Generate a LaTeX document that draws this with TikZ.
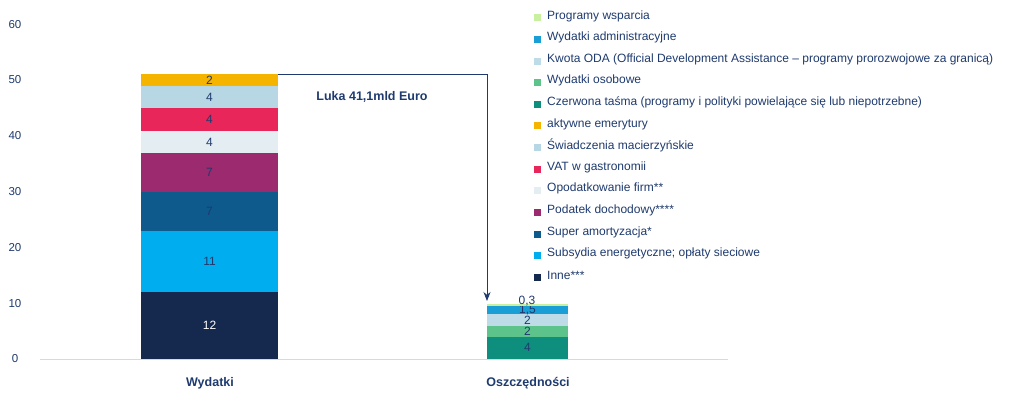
\documentclass[tikz,border=0pt]{standalone}
\usepackage{fontspec}
\setmainfont{Liberation Sans}
\usetikzlibrary{arrows.meta, positioning}
\definecolor{cInne}{HTML}{15294F}
\definecolor{cSub}{HTML}{00AEEF}
\definecolor{cSuper}{HTML}{0E5A8C}
\definecolor{cPod}{HTML}{9B2A6E}
\definecolor{cOpod}{HTML}{E4EDF2}
\definecolor{cVat}{HTML}{E8265A}
\definecolor{cSwi}{HTML}{B7D7E4}
\definecolor{cAkt}{HTML}{F5B400}
\definecolor{cCzer}{HTML}{0E8F7E}
\definecolor{cOsob}{HTML}{5CC48A}
\definecolor{cOda}{HTML}{BEDCE8}
\definecolor{cAdm}{HTML}{1A9ED6}
\definecolor{cProg}{HTML}{C8F0A0}
\definecolor{txt}{HTML}{1E3A6E}
\begin{document}
\begin{tikzpicture}[x=1pt,y=1pt,text=txt,font=\fontsize{12}{14}\selectfont]
    \tikzstyle{val} = [font=\fontsize{12}{13}\selectfont, inner sep=0pt, text=txt]
    \tikzstyle{tick} = [anchor=center, font=\fontsize{11.5}{13}\selectfont]
    \tikzstyle{key} = [minimum size=7pt, inner sep=0pt]
    \tikzstyle{entry} = [anchor=west, inner sep=0pt]
    \tikzstyle{heading} = [font=\fontsize{12.5}{14}\selectfont\bfseries]
    \tikzstyle{arrow} = [-{Stealth[length=9pt,width=7pt]}, thick, txt]
    \useasboundingbox (0,0) rectangle (1019,402);
    % axis
    \draw[gray!30] (40,43) -- (728,43);
    \foreach \v in {0,10,...,60}
        \node[tick] at (15,{43+\v*5.58}) {\v};
    % left bar
    \fill[cInne] (141,43) rectangle (278,110) node[val, text=white, midway] {12};
    \fill[cSub] (141,110) rectangle (278,171) node[val, midway] {11};
    \fill[cSuper] (141,171) rectangle (278,210) node[val, midway] {7};
    \fill[cPod] (141,210) rectangle (278,249) node[val, midway] {7};
    \fill[cOpod] (141,249) rectangle (278,271) node[val, midway] {4};
    \fill[cVat] (141,271) rectangle (278,294) node[val, midway] {4};
    \fill[cSwi] (141,294) rectangle (278,316) node[val, midway] {4};
    \fill[cAkt] (141,316) rectangle (278,327.6) node[val, midway] {2};
    \coordinate (ltop) at (278,327.6);
    % right bar
    \fill[cCzer] (487,43) rectangle (568,65.3) node[val, midway] {4};
    \fill[cOsob] (487,65.3) rectangle (568,76.5) node[val, midway] {2};
    \fill[cOda] (487,76.5) rectangle (568,87.6) node[val, midway] {2};
    \fill[cAdm] (487,87.6) rectangle (568,96) node[val, midway] {1,5};
    \fill[cProg] (487,96) rectangle (568,97.7);
    \node[val] at (527,101) {0,3};
    \coordinate (rtop) at (487,101);
    % gap
    \draw[arrow] (ltop) -| (rtop);
    \node (gap) [heading] at (372,305) {Luka 41,1mld Euro};
    % categories
    \node (wyd) [heading] at (210,19) {Wydatki};
    \node (osz) [heading] at (528,19) {Oszczędności};
    % legend
    \foreach \c/\t [count=\i from 0] in {cProg/Programy wsparcia, cAdm/Wydatki administracyjne,
        cOda/{Kwota ODA (Official Development Assistance – programy prorozwojowe za granicą)},
        cOsob/Wydatki osobowe,
        cCzer/{Czerwona taśma (programy i polityki powielające się lub niepotrzebne)},
        cAkt/aktywne emerytury, cSwi/Świadczenia macierzyńskie, cVat/VAT w gastronomii,
        cOpod/Opodatkowanie firm**, cPod/Podatek dochodowy****, cSuper/Super amortyzacja*,
        cSub/Subsydia energetyczne; opłaty sieciowe, cInne/Inne***} {
        \node[key, fill=\c] at (537,{384-\i*21.6}) {};
        \node[entry] at (547,{386-\i*21.6}) {\t};
    }
\end{tikzpicture}
\end{document}
